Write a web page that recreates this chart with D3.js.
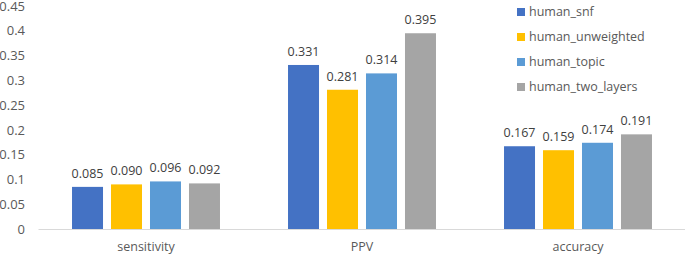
<!DOCTYPE html>
<html>
<head>
<meta charset="utf-8">
<script src="https://cdn.jsdelivr.net/npm/d3@7"></script>
<style>
  body { margin: 0; background: #fff; }
  text { font-family: "Open Sans", sans-serif; fill: #595959; }
</style>
</head>
<body>
<div class="chart"></div>
<script>
// Data
const categories = ['sensitivity', 'PPV', 'accuracy']
const seriesNames = ['human_snf', 'human_unweighted', 'human_topic', 'human_two_layers']
const human_snf = [0.085, 0.331, 0.167]
const human_unweighted = [0.090, 0.281, 0.159]
const human_topic = [0.096, 0.314, 0.174]
const human_two_layers = [0.092, 0.395, 0.191]
const yTicks = [0, 0.05, 0.1, 0.15, 0.2, 0.25, 0.3, 0.35, 0.4, 0.45]
const colors = ['#4472C4', '#FFC000', '#5B9BD5', '#A5A5A5']

const seriesValues = [human_snf, human_unweighted, human_topic, human_two_layers]

let dims = {
    width: 685,
    height: 255,
    margin: { top: 6, bottom: 26, left: 38, right: -1 }
}

const svg = d3.select('.chart')
    .append('svg')
    .attr('width', dims.width)
    .attr('height', dims.height)

const plotWidth = dims.width - dims.margin.left - dims.margin.right
const plotHeight = dims.height - dims.margin.top - dims.margin.bottom

const container = svg.append('g')
    .attr('transform', `translate(${dims.margin.left},${dims.margin.top})`)

const x0 = d3.scaleBand()
    .domain(categories)
    .range([0, plotWidth])
    .paddingInner(0.315)
    .paddingOuter(0.1575)

const x1 = d3.scaleBand()
    .domain(seriesNames)
    .range([0, x0.bandwidth()])
    .paddingInner(0.205)

const yScale = d3.scaleLinear()
    .domain([0, 0.45])
    .range([plotHeight, 0])

// Y axis labels
const yAxis = d3.axisLeft(yScale).tickValues(yTicks).tickFormat(d => d3.format('')(+d.toFixed(2))).tickSize(0).tickPadding(13)
const yAxisGroup = container.append('g').call(yAxis)
yAxisGroup.select('.domain').remove()
yAxisGroup.selectAll('text')
    .attr('font-size', '13px')
    .style('fill', '#595959')
    .attr('font-family', '"Open Sans", sans-serif')

// X axis
const xAxisGroup = container.append('g')
    .attr('transform', `translate(0, ${plotHeight})`)
    .call(d3.axisBottom(x0).tickSize(0).tickPadding(13))
xAxisGroup.select('.domain').attr('stroke', '#D9D9D9')
xAxisGroup.selectAll('text')
    .attr('font-size', '12.5px')
    .style('fill', '#595959')
    .attr('font-family', '"Open Sans", sans-serif')

// Bars
const rows = []
categories.forEach((c, i) => {
    seriesNames.forEach((s, j) => {
        rows.push({ category: c, series: s, value: seriesValues[j][i], color: colors[j] })
    })
})

const groups = container.selectAll('.bar')
    .data(rows)
    .join('g')
    .attr('class', 'bar')

groups.append('rect')
    .attr('x', d => x0(d.category) + x1(d.series))
    .attr('y', d => yScale(d.value))
    .attr('width', x1.bandwidth())
    .attr('height', d => plotHeight - yScale(d.value))
    .attr('fill', d => d.color)

groups.append('text')
    .attr('x', d => x0(d.category) + x1(d.series) + x1.bandwidth() / 2)
    .attr('y', d => yScale(d.value) - 9)
    .attr('text-anchor', 'middle')
    .attr('font-size', '12.5px')
    .style('fill', '#404040')
    .text(d => d3.format('.3f')(d.value))

// Legend
const legend = svg.append('g')
    .attr('transform', 'translate(517, 12)')

const legendItems = legend.selectAll('g')
    .data(seriesNames)
    .join('g')
    .attr('transform', (d, i) => `translate(0, ${i * 25})`)

legendItems.append('rect')
    .attr('x', 0)
    .attr('y', -4)
    .attr('width', 8)
    .attr('height', 8)
    .attr('fill', (d, i) => colors[i])

legendItems.append('text')
    .attr('x', 12)
    .attr('y', 0)
    .attr('dy', '0.35em')
    .attr('font-size', '12.5px')
    .text(d => d)
</script>
</body>
</html>
